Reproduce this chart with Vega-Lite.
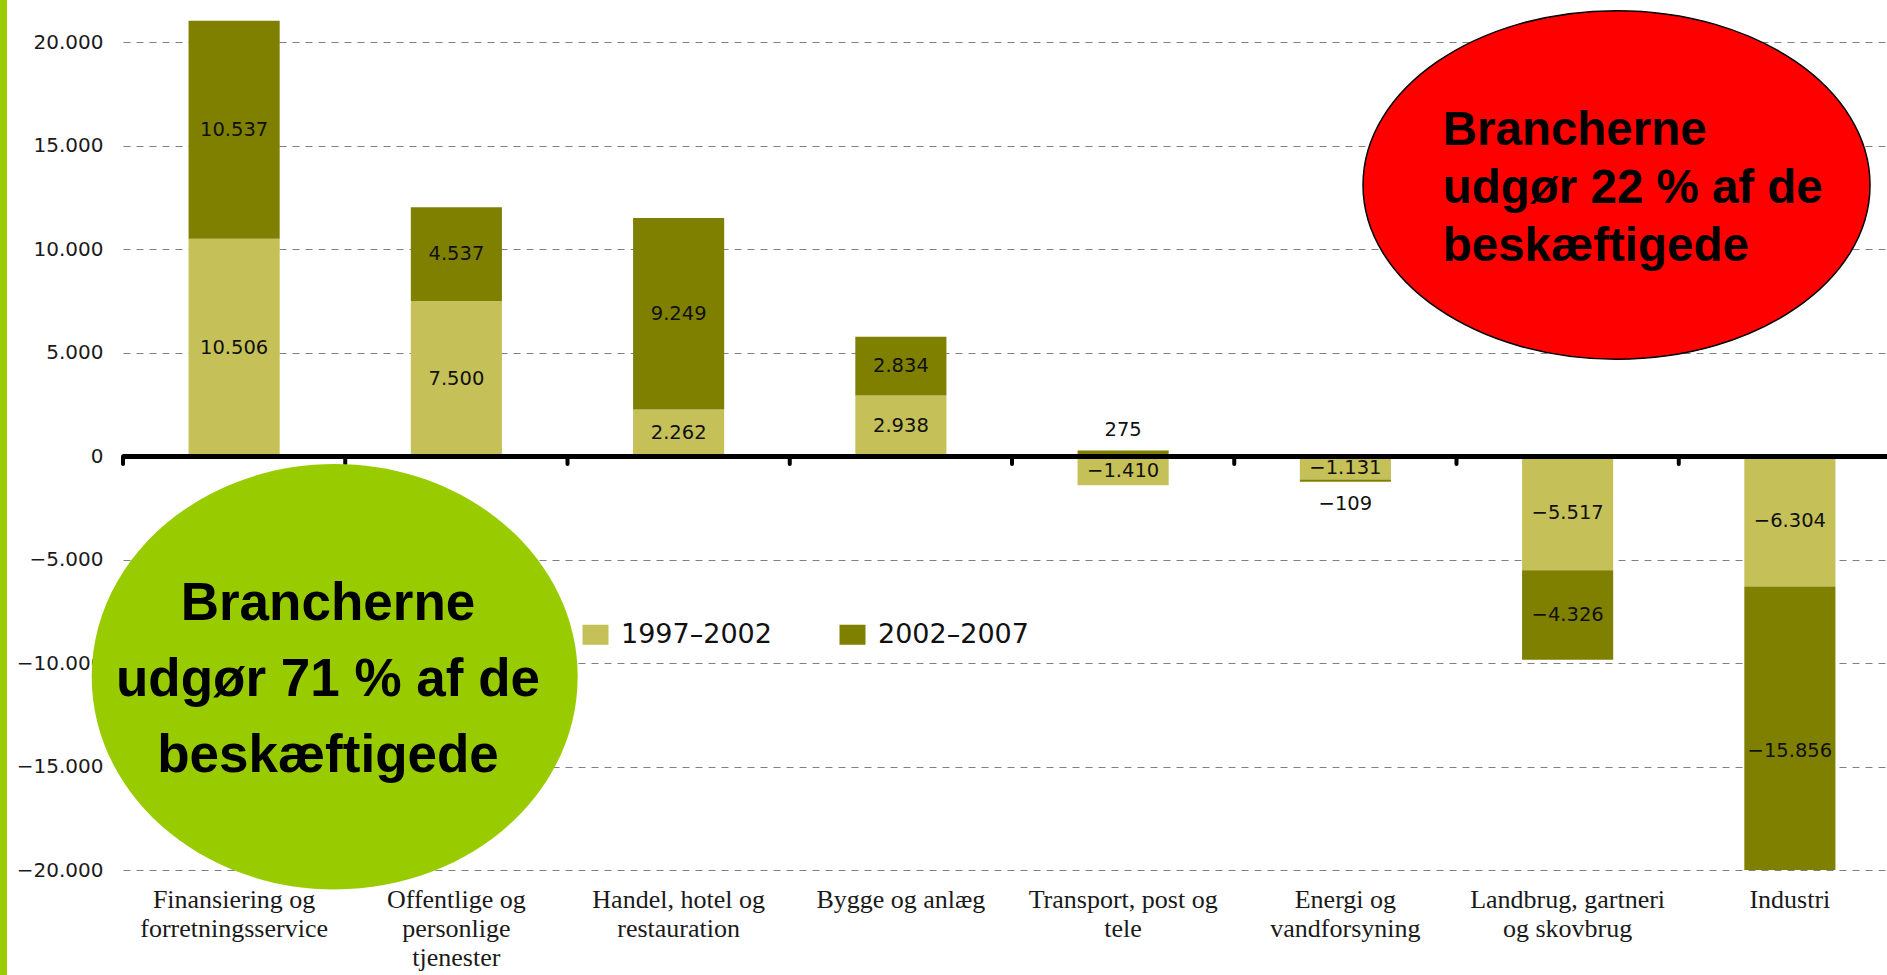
{
  "$schema": "https://vega.github.io/schema/vega-lite/v6.json",
  "width": 1764,
  "height": 869,
  "autosize": {"type": "none"},
  "padding": {"left": 123, "top": 1, "right": 0, "bottom": 105},
  "background": "#ffffff",
  "config": {
    "view": {"stroke": null},
    "locale": {"number": {"decimal": ",", "thousands": ".", "grouping": [3], "currency": ["", " kr."]}}
  },
  "resolve": {"scale": {"x": "independent"}},
  "layer": [
    {
      "data": {"values": [
        {"cat": "Finansiering og|forretningsservice", "series": "1997–2002", "value": 10506},
        {"cat": "Finansiering og|forretningsservice", "series": "2002–2007", "value": 10537},
        {"cat": "Offentlige og|personlige|tjenester", "series": "1997–2002", "value": 7500},
        {"cat": "Offentlige og|personlige|tjenester", "series": "2002–2007", "value": 4537},
        {"cat": "Handel, hotel og|restauration", "series": "1997–2002", "value": 2262},
        {"cat": "Handel, hotel og|restauration", "series": "2002–2007", "value": 9249},
        {"cat": "Bygge og anlæg", "series": "1997–2002", "value": 2938},
        {"cat": "Bygge og anlæg", "series": "2002–2007", "value": 2834},
        {"cat": "Transport, post og|tele", "series": "1997–2002", "value": -1410},
        {"cat": "Transport, post og|tele", "series": "2002–2007", "value": 275},
        {"cat": "Energi og|vandforsyning", "series": "1997–2002", "value": -1131},
        {"cat": "Energi og|vandforsyning", "series": "2002–2007", "value": -109},
        {"cat": "Landbrug, gartneri|og skovbrug", "series": "1997–2002", "value": -5517},
        {"cat": "Landbrug, gartneri|og skovbrug", "series": "2002–2007", "value": -4326},
        {"cat": "Industri", "series": "1997–2002", "value": -6304},
        {"cat": "Industri", "series": "2002–2007", "value": -15856}
      ]},
      "layer": [
        {
          "mark": {"type": "bar", "clip": true},
          "encoding": {
            "x": {
              "field": "cat", "type": "nominal", "sort": null,
              "scale": {"range": [0, 1778], "paddingInner": 0.59, "paddingOuter": 0.295},
              "axis": {
                "title": null, "domain": false, "ticks": false, "grid": false,
                "labelAngle": 0, "labelFont": "Liberation Serif", "labelFontSize": 26,
                "labelLineHeight": 29, "labelPadding": 16, "labelColor": "#1a1a1a",
                "labelBaseline": "top", "labelLimit": 0, "labelOverlap": false,
                "labelExpr": "split(datum.label, '|')"
              }
            },
            "y": {
              "field": "value", "type": "quantitative", "stack": "zero",
              "scale": {"domain": [-20000, 22000], "nice": false, "zero": false},
              "axis": {
                "title": null, "domain": false, "ticks": false,
                "values": [-20000, -15000, -10000, -5000, 0, 5000, 10000, 15000, 20000],
                "format": ",d", "labelFont": "DejaVu Sans", "labelFontSize": 20,
                "labelColor": "#1a1a1a", "labelPadding": 20,
                "grid": true, "gridColor": "#808080", "gridDash": [7, 6], "gridWidth": 1.2
              }
            },
            "color": {
              "field": "series", "type": "nominal",
              "scale": {"domain": ["1997–2002", "2002–2007"], "range": ["#C5C058", "#808000"]},
              "legend": {
                "title": null, "orient": "none", "legendX": 459, "legendY": 620,
                "direction": "horizontal", "symbolType": "M-1,-0.77H1V0.77H-1Z",
                "symbolSize": 676, "symbolStrokeWidth": 0, "symbolOpacity": 1,
                "labelFont": "DejaVu Sans", "labelFontSize": 27, "labelColor": "#111111",
                "labelOffset": 12, "columnPadding": 67, "padding": 0
              }
            },
            "order": {"field": "series", "sort": "ascending"}
          }
        },
        {
          "transform": [
            {"stack": "value", "groupby": ["cat"], "sort": [{"field": "series", "order": "ascending"}], "as": ["v0", "v1"]},
            {"calculate": "(datum.v0 + datum.v1) / 2", "as": "mid"},
            {"filter": "abs(datum.value) >= 500"}
          ],
          "mark": {"type": "text", "font": "DejaVu Sans", "fontSize": 19.5, "color": "#111111", "baseline": "middle"},
          "encoding": {
            "x": {"field": "cat", "type": "nominal", "sort": null},
            "y": {"field": "mid", "type": "quantitative"},
            "text": {"field": "value", "type": "quantitative", "format": ",d"}
          }
        },
        {
          "transform": [
            {"stack": "value", "groupby": ["cat"], "sort": [{"field": "series", "order": "ascending"}], "as": ["v0", "v1"]},
            {"filter": "datum.value > 0 && datum.value < 500"}
          ],
          "mark": {"type": "text", "font": "DejaVu Sans", "fontSize": 19.5, "color": "#111111", "baseline": "middle", "dy": -21},
          "encoding": {
            "x": {"field": "cat", "type": "nominal", "sort": null},
            "y": {"field": "v1", "type": "quantitative"},
            "text": {"field": "value", "type": "quantitative", "format": ",d"}
          }
        },
        {
          "transform": [
            {"stack": "value", "groupby": ["cat"], "sort": [{"field": "series", "order": "ascending"}], "as": ["v0", "v1"]},
            {"filter": "datum.value < 0 && datum.value > -500"}
          ],
          "mark": {"type": "text", "font": "DejaVu Sans", "fontSize": 19.5, "color": "#111111", "baseline": "middle", "dy": 22},
          "encoding": {
            "x": {"field": "cat", "type": "nominal", "sort": null},
            "y": {"field": "v1", "type": "quantitative"},
            "text": {"field": "value", "type": "quantitative", "format": ",d"}
          }
        },
        {
          "mark": {"type": "rule", "color": "#000000", "strokeWidth": 4},
          "encoding": {"y": {"datum": 0, "type": "quantitative"}}
        },
        {
          "transform": [{"filter": "datum.series == '1997–2002'"}],
          "mark": {"type": "rule", "color": "#000000", "strokeWidth": 4, "strokeCap": "round"},
          "encoding": {
            "x": {"field": "cat", "type": "nominal", "sort": null, "bandPosition": -0.7195},
            "y": {"datum": 0, "type": "quantitative"},
            "y2": {"datum": -380}
          }
        }
      ]
    },
    {
      "data": {"values": [{}]},
      "mark": {"type": "point", "shape": "M-1,0A1,0.8753,0,1,1,1,0A1,0.8753,0,1,1,-1,0Z", "size": 236196, "filled": true, "fill": "#99CC00", "strokeWidth": 0, "opacity": 1},
      "encoding": {
        "x": {"datum": 0.9525, "type": "quantitative", "scale": {"domain": [0, 8], "range": [0, 1778]}, "axis": null},
        "y": {"datum": -10657, "type": "quantitative"}
      }
    },
    {
      "data": {"values": [{}]},
      "mark": {"type": "text", "font": "Liberation Sans", "fontWeight": "bold", "fontSize": 53, "lineHeight": 76, "align": "center", "baseline": "alphabetic", "color": "#000000"},
      "encoding": {
        "x": {"datum": 0.9224, "type": "quantitative", "scale": {"domain": [0, 8], "range": [0, 1778]}, "axis": null},
        "y": {"datum": -7917, "type": "quantitative"},
        "text": {"value": ["Brancherne", "udgør 71 % af de", "beskæftigede"]}
      }
    },
    {
      "data": {"values": [{}]},
      "mark": {"type": "point", "shape": "M-1,0A1,0.6876,0,1,1,1,0A1,0.6876,0,1,1,-1,0Z", "size": 257049, "filled": true, "fill": "#FF0000", "stroke": "#000000", "strokeWidth": 1.5, "opacity": 1},
      "encoding": {
        "x": {"datum": 6.72, "type": "quantitative", "scale": {"domain": [0, 8], "range": [0, 1778]}, "axis": null},
        "y": {"datum": 13108, "type": "quantitative"}
      }
    },
    {
      "data": {"values": [{}]},
      "mark": {"type": "text", "font": "Liberation Sans", "fontWeight": "bold", "fontSize": 47.5, "lineHeight": 58, "align": "left", "baseline": "alphabetic", "color": "#000000"},
      "encoding": {
        "x": {"datum": 5.938, "type": "quantitative", "scale": {"domain": [0, 8], "range": [0, 1778]}, "axis": null},
        "y": {"datum": 15041, "type": "quantitative"},
        "text": {"value": ["Brancherne", "udgør 22 % af de", "beskæftigede"]}
      }
    },
    {
      "data": {"values": [{}]},
      "mark": {"type": "rect", "color": "#99CC00"},
      "encoding": {
        "x": {"datum": -0.5534, "type": "quantitative", "scale": {"domain": [0, 8], "range": [0, 1778]}, "axis": null},
        "x2": {"datum": -0.5219},
        "y": {"datum": 22500, "type": "quantitative"},
        "y2": {"datum": -25500}
      }
    }
  ]
}
